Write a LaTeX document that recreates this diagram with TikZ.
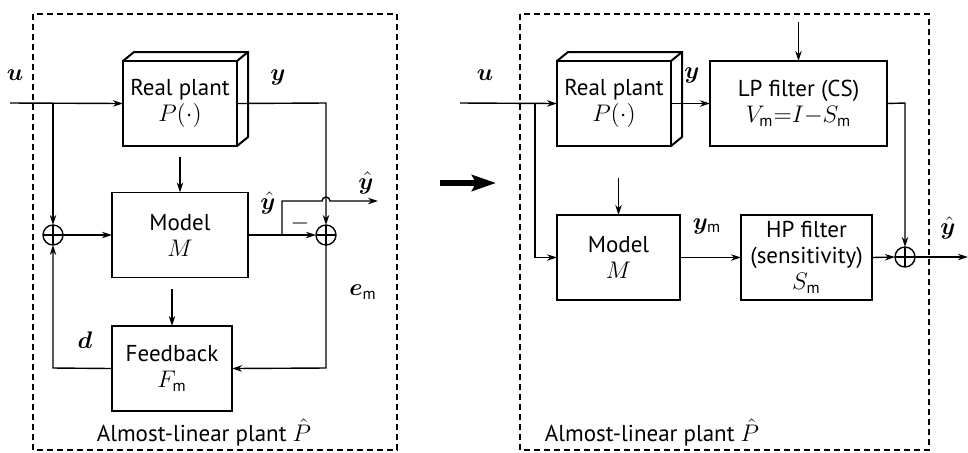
\documentclass[tikz,border=0pt]{standalone}
\usepackage{amsmath,bm}
\usepackage{fontspec}
\setmainfont{PT Sans}
\usetikzlibrary{arrows.meta,calc}
\newcommand{\msub}{_{\text{m}}}
\begin{document}
\begin{tikzpicture}[x=0.5pt,y=-0.5pt,
  line width=0.7pt,
  blk/.style={draw,rectangle,inner sep=0pt,outer sep=0pt,align=center,minimum height=42.5pt},
  sumnode/.style={draw,circle,minimum size=10pt,inner sep=0pt,outer sep=0pt},
  arr/.style={-{Stealth[length=5pt,width=3.2pt]}},
  frame/.style={draw,dash pattern=on 3pt off 2pt,line width=0.6pt},
  lbl/.style={inner sep=0pt},
  bigarr/.style={line width=2.8pt,-{Stealth[length=12pt,width=8pt,inset=2pt]}},
  font=\fontsize{11.5}{13}\selectfont]
\useasboundingbox (0,0) rectangle (968,452);

% ---------------- left panel ----------------
\draw[frame] (33,14) rectangle (397,450);
\node[blk,line width=1pt,minimum width=57pt] (rpL) at (180,103.5) {Real plant\\$P(\cdot)$};
\draw[line width=1pt] (rpL.north west) -- ++(11,-9) -| ++(114,85) -- (rpL.south east);
\draw[line width=1pt] (rpL.north east) -- ++(11,-9);
\node[blk,minimum width=68pt] (modL) at (180,235) {Model\\$M$};
\node[blk,minimum width=60pt] (fbL) at (172,368.5) {Feedback\\$F\msub$};
\node[sumnode] (sL) at (53,235) {};
\node[sumnode] (sR) at (326,235) {};
\draw (sL.north) -- (sL.south) (sL.west) -- (sL.east);
\draw (sR.north) -- (sR.south) (sR.west) -- (sR.east);

\coordinate (uinL) at (10,103);
\coordinate (jL) at (53,103);
\coordinate (cyL) at (326,103);
\coordinate (jyh) at (282,235);
\coordinate (yhup) at (282,201);
\coordinate (yhout) at (378,201);
\coordinate (pm) at (180,157);
\coordinate (mf) at (172,289);
\coordinate (ceL) at (326,368);
\coordinate (cdL) at (53,368);

\draw[arr] (uinL) -- (rpL.west);
\draw[arr] (jL) -- (sL.north);
\draw[arr] (rpL.east) -- (cyL) -- (sR.north);
\draw[arr] (sL.east) -- (modL.west);
\draw[arr] (modL.east) -- (sR.west);
\draw[arr] (jyh) -- (yhup) -- (322,201) arc[start angle=180,end angle=360,radius=4] -- (yhout);
\draw[arr] (sR.south) -- (ceL) -- (fbL.east);
\draw[arr] (fbL.west) -- (cdL) -- (sL.south);
\draw[arr] (pm) -- (modL.north);
\draw[arr] (mf) -- (fbL.north);

\node[lbl] (uL) at (15,75) {$\bm{u}$};
\node[lbl] (yL) at (278,77) {$\bm{y}$};
\node[lbl] (yh1) at (268,203) {$\bm{\hat{y}}$};
\node[lbl] (yh2) at (366,183) {$\bm{\hat{y}}$};
\node[lbl] (minus) at (300,223) {$-$};
\node[lbl] (emL) at (363,292) {$\bm{e}\msub$};
\node[lbl] (dL) at (85,340) {$\bm{d}$};
\node[lbl] (capL) at (204,432) {Almost-linear plant $\hat{P}$};

% ---------------- big arrow ----------------
\coordinate (ba1) at (440,183);
\coordinate (ba2) at (496,183);
\draw[bigarr] (ba1) -- (ba2);

% ---------------- right panel ----------------
\draw[frame] (520,14) rectangle (929,450);
\node[blk,line width=1pt,minimum width=57pt] (rpR) at (614,103.5) {Real plant\\$P(\cdot)$};
\draw[line width=1pt] (rpR.north west) -- ++(11,-9) -| ++(114,85) -- (rpR.south east);
\draw[line width=1pt] (rpR.north east) -- ++(11,-9);
\node[blk,minimum width=88.5pt] (lpR) at (798.5,103.5) {LP filter (CS)\\$V\msub{=}I{-}S\msub$};
\node[blk,minimum width=61.5pt] (modR) at (618.5,257.5) {Model\\$M$};
\node[blk,minimum width=65.5pt] (hpR) at (806.5,257.5) {HP filter\\(sensitivity)\\$S\msub$};
\node[sumnode] (s2) at (905,257) {};
\draw (s2.north) -- (s2.south) (s2.west) -- (s2.east);

\coordinate (uinR) at (460,103);
\coordinate (jR) at (535,103);
\coordinate (jR2) at (535,257.5);
\coordinate (lpin) at (798.5,22);
\coordinate (cy2) at (905,103);
\coordinate (pm2) at (618.5,178);
\coordinate (out2) at (968,257);

\draw[arr] (uinR) -- (rpR.west);
\draw[arr] (jR) -- (jR2) -- (modR.west);
\draw[arr] (rpR.east) -- (lpR.west);
\draw[arr] (lpin) -- (lpR.north);
\draw[arr] (lpR.east) -- (cy2) -- (s2.north);
\draw[arr] (pm2) -- (modR.north);
\draw[arr] (modR.east) -- (hpR.west);
\draw[arr] (hpR.east) -- (s2.west);
\draw[arr] (s2.east) -- (out2);

\node[lbl] (uR) at (485,75) {$\bm{u}$};
\node[lbl] (yR) at (692,75) {$\bm{y}$};
\node[lbl] (ymR) at (707,226) {$\bm{y}\msub$};
\node[lbl] (yhR) at (948,228) {$\bm{\hat{y}}$};
\node[lbl] (capR) at (652,432) {Almost-linear plant $\hat{P}$};
\end{tikzpicture}
\end{document}
